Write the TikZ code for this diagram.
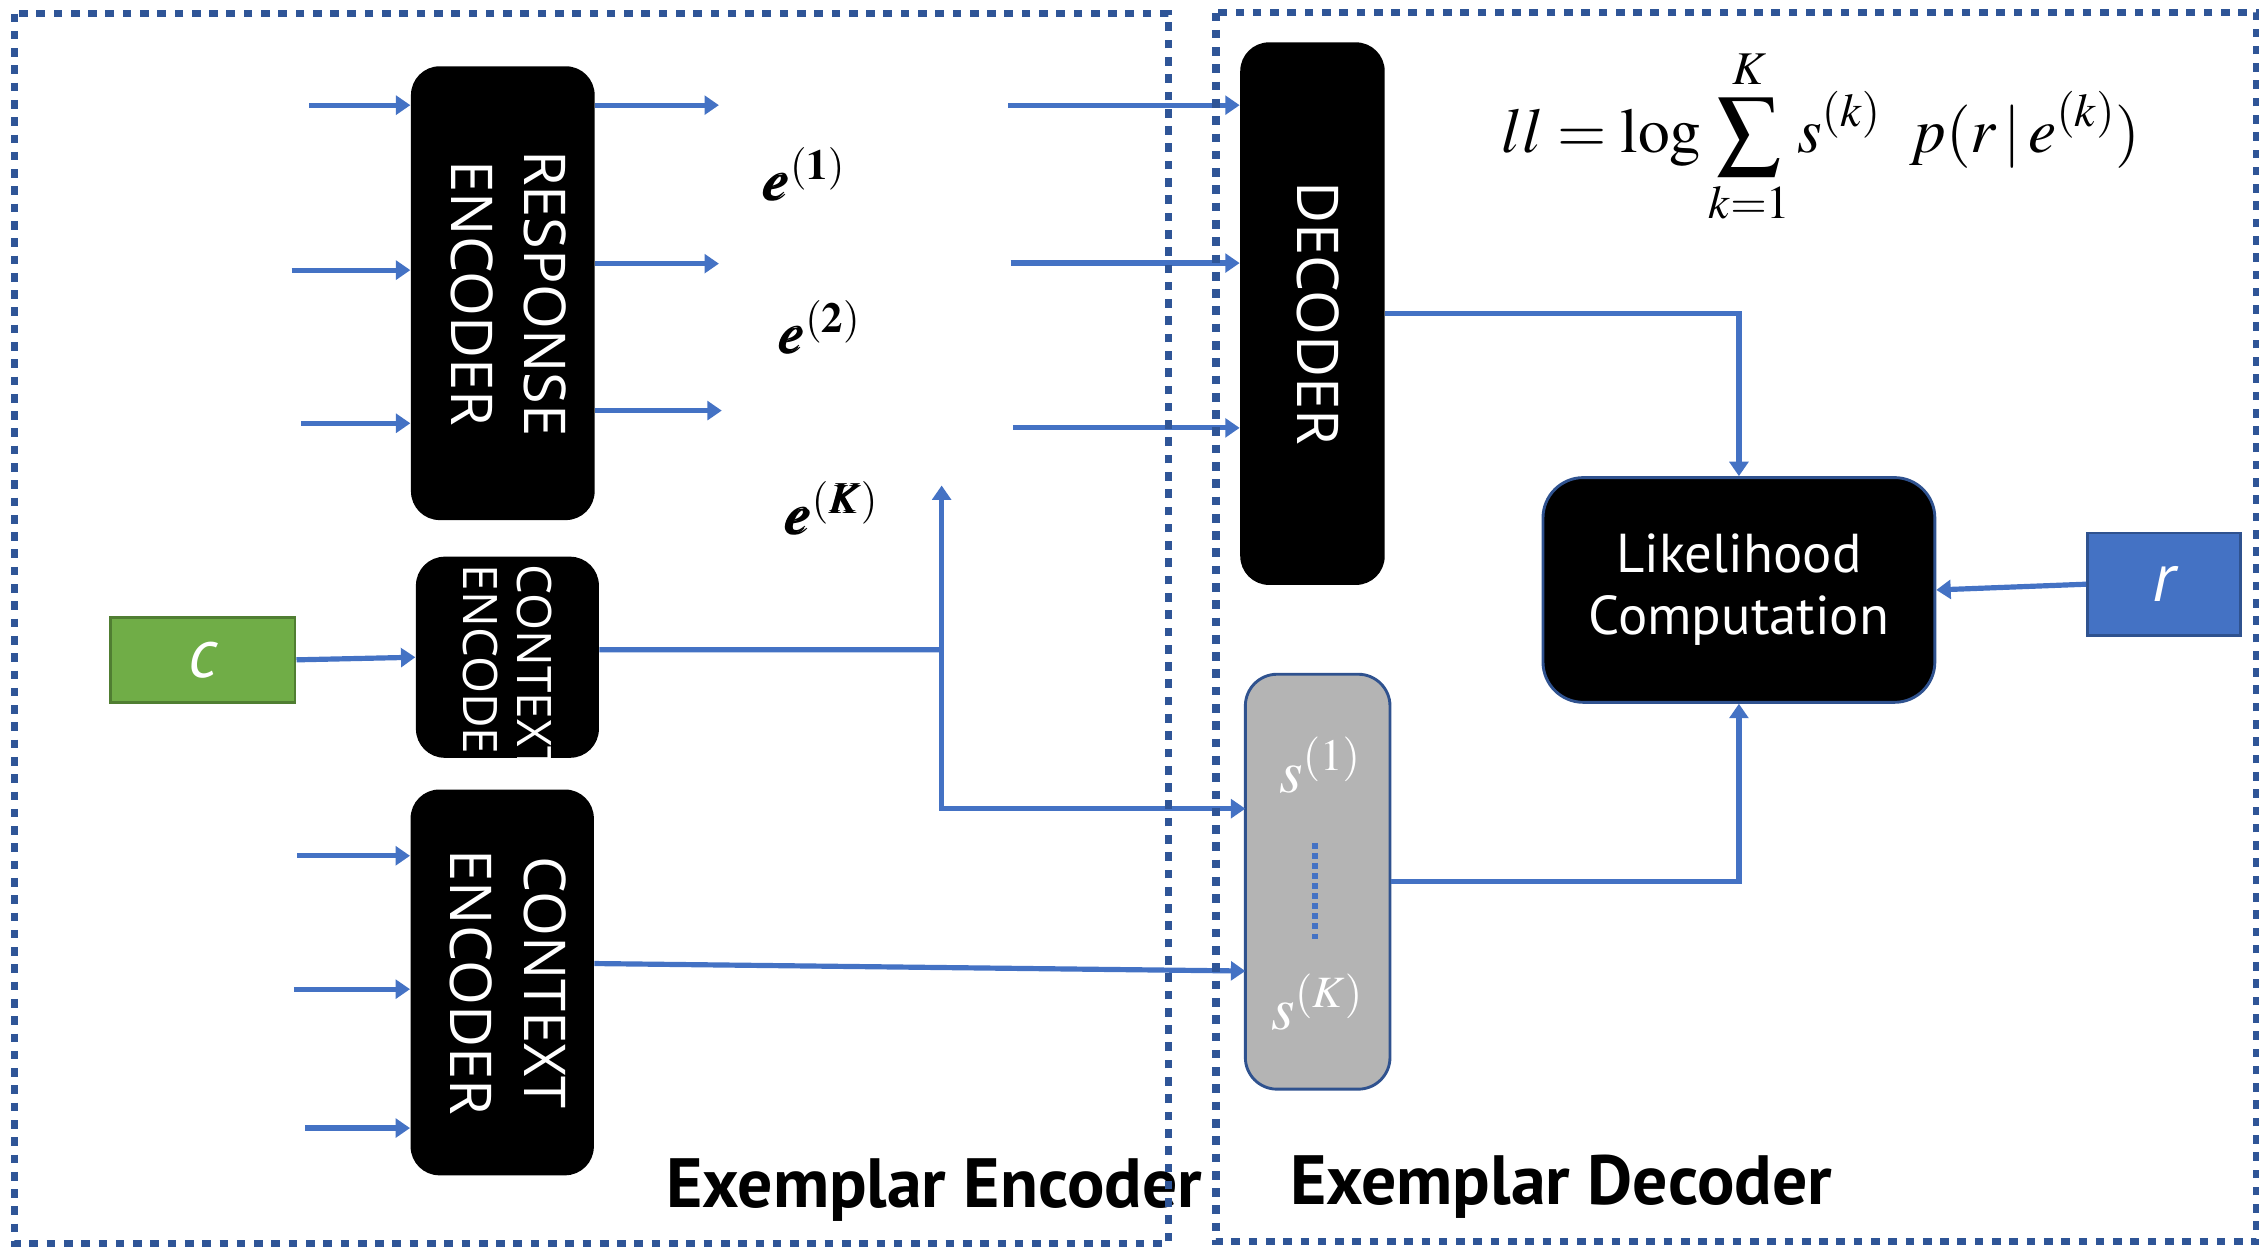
\documentclass[tikz,border=0pt]{standalone}
\usepackage{mathptmx}
\usepackage{bm}
\usepackage[no-math]{fontspec}
\newfontfamily\boxfont{Open Sans}
\newfontfamily\capfont{PT Sans}
\usetikzlibrary{arrows.meta,positioning}
\definecolor{arrowblue}{HTML}{4472C4}
\definecolor{frameblue}{HTML}{2F5597}
\definecolor{edgeblue}{HTML}{2F528F}
\definecolor{cgreen}{HTML}{70AD47}
\definecolor{cgreenedge}{HTML}{507E32}
\definecolor{sgray}{HTML}{B4B4B4}
\newcommand{\vlabel}[1]{\rotatebox{-90}{\begin{tabular}{@{}c@{}}#1\end{tabular}}}

\begin{document}
\begin{tikzpicture}[x=0.5pt, y=-0.5pt, >={Triangle[length=5pt,width=6.5pt]},
    every node/.style={inner sep=0pt},
    link/.style={->, draw=arrowblue, line width=1.8pt},
    wire/.style={draw=arrowblue, line width=1.8pt},
    frame/.style={draw=frameblue, line width=2.5pt, dash pattern=on 3pt off 3pt},
    blackbox/.style={fill=black, rounded corners=10pt, text=white, align=center,
                     font=\boxfont\fontsize{20}{25.5}\selectfont},
    inbox/.style={text=white, font=\capfont\itshape\fontsize{24}{26}\selectfont},
    elabel/.style={font=\fontsize{20}{24}\selectfont},
    slabel/.style={text=white, font=\fontsize{21}{24}\selectfont},
    caption/.style={anchor=base west, font=\capfont\bfseries\fontsize{24.2}{28}\selectfont}]
  \useasboundingbox (0,0) rectangle (1568,866.3);

  % encoders
  \node[blackbox, minimum width=63.75pt, minimum height=157.5pt] (resp) at (349,203.5)
    {\vlabel{RESPONSE\\ENCODER}};
  \node[blackbox, minimum width=63.5pt, minimum height=69.8pt] (ctxs) at (352.2,456.2) {};
  \begin{scope}
    \clip (ctxs.south west) rectangle (ctxs.north east);
    \node[rotate=-90, anchor=west, text=white, align=left,
          font=\boxfont\fontsize{16.5}{19}\selectfont] (ctxstext)
      at ([yshift=-2.8pt]ctxs.north) {CONTEXT\\ENCODER};
  \end{scope}
  \node[blackbox, minimum width=63.6pt, minimum height=133.9pt] (ctxb) at (348.6,681.9)
    {\vlabel{CONTEXT\\ENCODER}};
  \node[inbox, fill=cgreen, draw=cgreenedge, line width=1pt,
        minimum width=64.2pt, minimum height=29.6pt] (cbox) at (140.6,458) {c};

  % decoder side
  \node[blackbox, minimum width=50.15pt, minimum height=188.3pt] (dec) at (911,217.7)
    {\vlabel{DECODER}};
  \node[blackbox, draw=edgeblue, line width=1pt, rounded corners=14pt,
        minimum width=136pt, minimum height=78pt,
        font=\capfont\fontsize{19}{21.5}\selectfont] (lik) at (1207,409.5)
    {Likelihood\\Computation};
  \node[inbox, fill=arrowblue, draw=edgeblue, line width=1pt,
        minimum width=53pt, minimum height=35.5pt] (rbox) at (1502,405.5) {r};
  \node[fill=sgray, draw=edgeblue, line width=1pt, rounded corners=11pt,
        minimum width=50.2pt, minimum height=144pt] (sbox) at (914.6,612) {};
  \node[slabel] (s1) at (916.5,531) {$s^{(1)}$};
  \node[slabel] (sK) at (914.6,695.5) {$s^{(K)}$};
  \draw[arrowblue, line width=1.9pt, dash pattern=on 2pt off 1.5pt] (912.8,585) -- (912.8,653);

  % exemplar labels and formula
  \node[elabel] (e1) at (558,121) {$\bm{e}^{\mathbf{(1)}}$};
  \node[elabel] (e2) at (568.6,227.5) {$\bm{e}^{\mathbf{(2)}}$};
  \node[elabel] (eK) at (577,352.6) {$\bm{e}^{\mathbf{(}\bm{K}\mathbf{)}}$};
  \node[font=\fontsize{22}{26}\selectfont] (ll) at (1264,95)
    {$\displaystyle ll = \log \sum_{k=1}^{K} s^{(k)}\;\; p(r\,|\,e^{(k)})$};

  % free ends
  \coordinate (ri1) at (214.5,73);  \coordinate (ri2) at (202.5,187.5); \coordinate (ri3) at (209,293.8);
  \coordinate (ci1) at (206.4,594); \coordinate (ci2) at (204,686.6);   \coordinate (ci3) at (211.9,783);
  \coordinate (ro1) at (499,73);    \coordinate (ro2) at (499,183);     \coordinate (ro3) at (501,285);
  \coordinate (di1) at (700,73);    \coordinate (di2) at (701.5,182.6); \coordinate (di3) at (703,297);
  \coordinate (split) at (653.6,451);
  \coordinate (eup) at (653.6,337);
  \coordinate (sin) at (864.4,561.3);
  \coordinate (kin) at (864.4,674);

  % connectors
  \foreach \i in {1,2,3} {
    \draw[link] (ri\i) -- (resp.west |- ri\i);
    \draw[link] (ci\i) -- (ctxb.west |- ci\i);
    \draw[link] (resp.east |- ro\i) -- (ro\i);
    \draw[link] (di\i) -- (dec.west |- di\i);
  }
  \draw[link] (cbox.east) -- (ctxs.west);
  \draw[wire] ([yshift=2.6pt]ctxs.east) -- (split);
  \draw[link] (split) -- (eup);
  \draw[link] (split) |- (sin);
  \draw[link] ([yshift=6.55pt]ctxb.east) -- (kin);
  \draw[link] (dec.east) -| (lik.north);
  \draw[link] (sbox.east) -| (lik.south);
  \draw[link] (rbox.west) -- (lik.east);

  \node[caption] (enclab) at (462,838) {Exemplar Encoder};
  \node[caption] (declab) at (895,836) {Exemplar Decoder};

  % dotted frames
  \draw[frame] (10,9.4) rectangle (811,863);
  \draw[frame] (844,8.7) rectangle (1566.5,862);
\end{tikzpicture}
\end{document}
